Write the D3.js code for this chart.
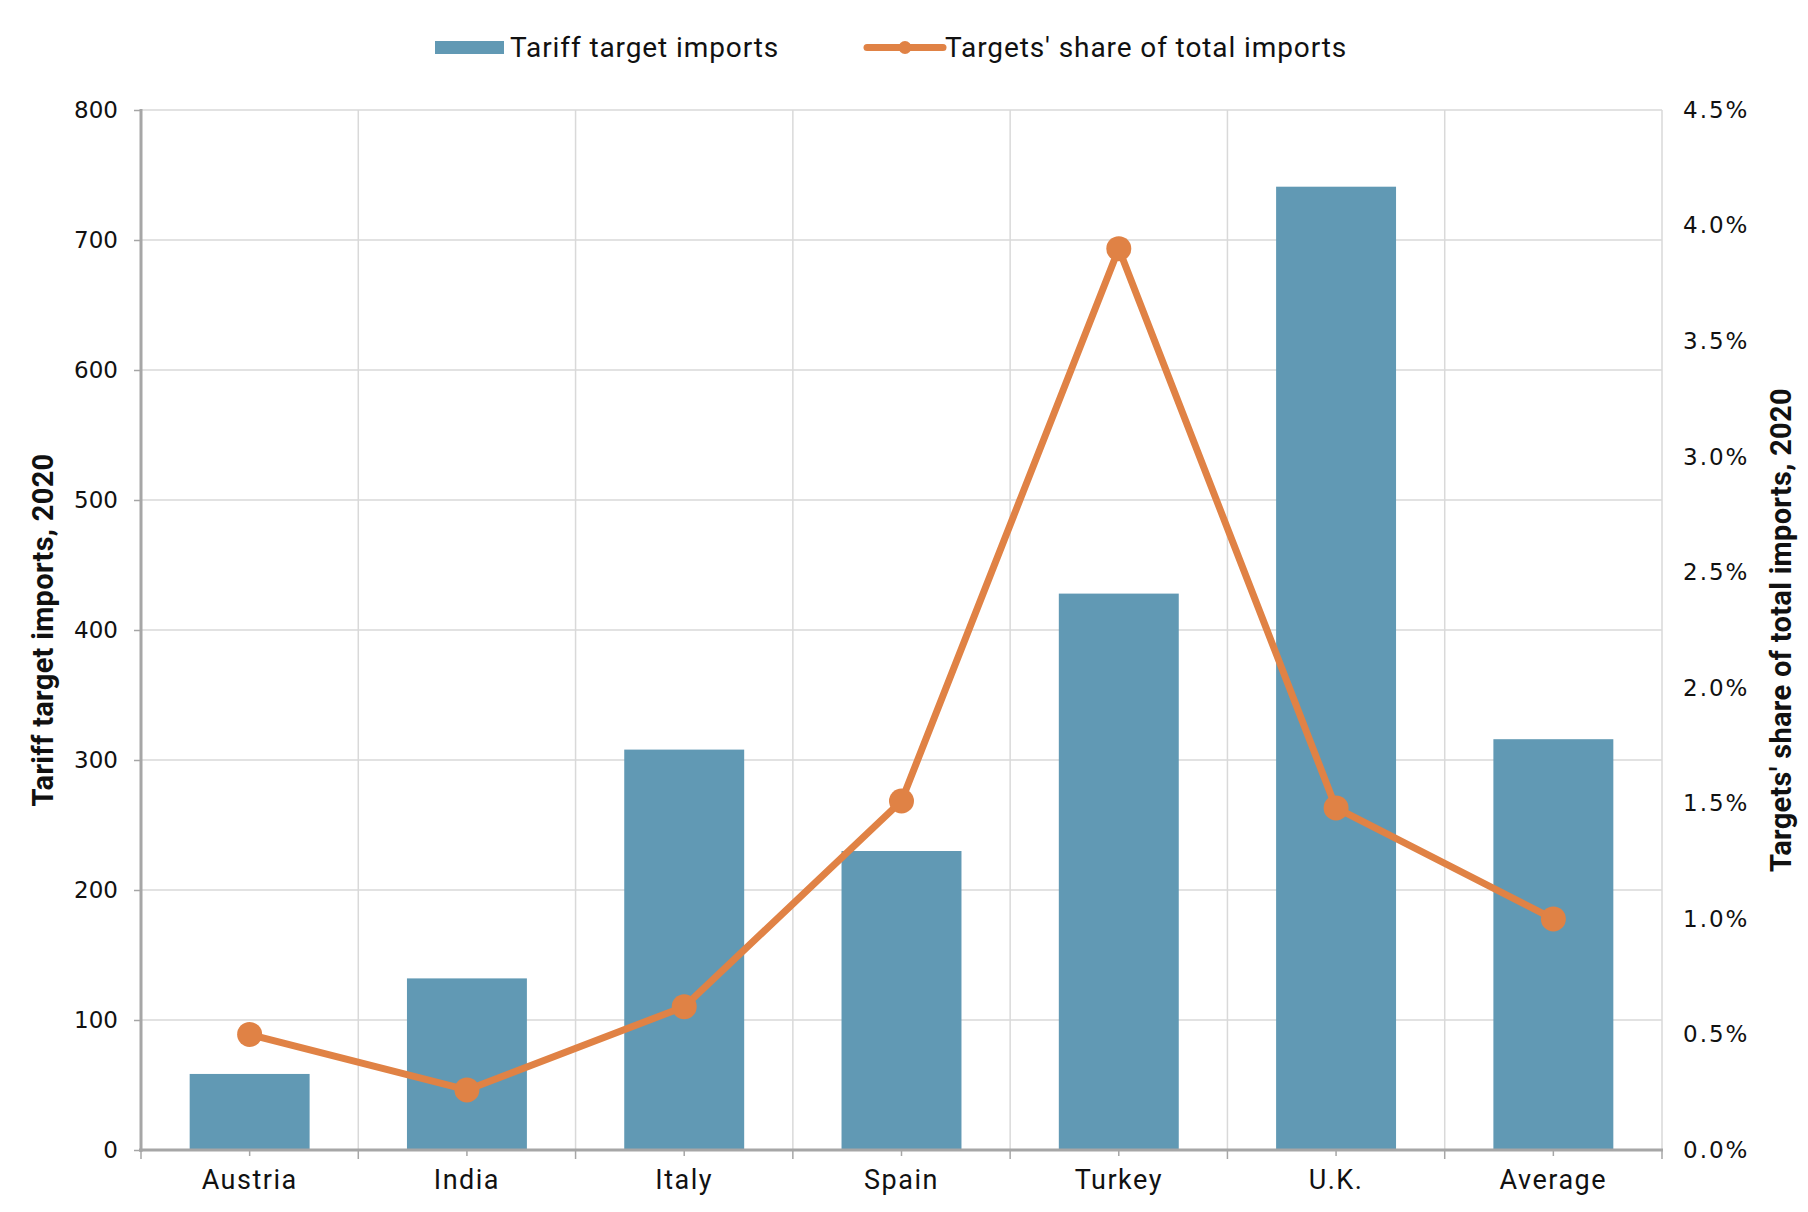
<!DOCTYPE html>
<html>
<head>
<meta charset="utf-8">
<script src="https://cdn.jsdelivr.net/npm/d3@7"></script>
<style>
  body { margin: 0; background: #fff; }
  svg { display: block; }
</style>
</head>
<body>
<script>
var categories = ["Austria", "India", "Italy", "Spain", "Turkey", "U.K.", "Average"];
var imports = [58.5, 132, 308, 230, 428, 741, 316];
var shares = [0.0050, 0.0026, 0.0062, 0.0151, 0.0390, 0.0148, 0.0100];
var leftTicks = [0, 100, 200, 300, 400, 500, 600, 700, 800];
var rightTicks = [0, 0.005, 0.01, 0.015, 0.02, 0.025, 0.03, 0.035, 0.04, 0.045];

var w = 1808;
var h = 1212;
var plotLeft = 141, plotRight = 1662, plotTop = 110, plotBottom = 1150;
var barColor = "#6199b4";
var lineColor = "#e08245";
var gridColor = "#d9d9d9";
var axisColor = "#a6a6a6";

var svg = d3.select("body")
    .append("svg")
    .attr("width", w)
    .attr("height", h);

var x = d3.scaleBand()
    .domain(categories)
    .range([plotLeft, plotRight])
    .paddingInner(0.448)
    .paddingOuter(0.224);

var y = d3.scaleLinear().domain([0, 800]).range([plotBottom, plotTop]);
var y2 = d3.scaleLinear().domain([0, 0.045]).range([plotBottom, plotTop]);

// grid lines
svg.append("g")
    .selectAll("line")
    .data(leftTicks.slice(1))
    .enter()
    .append("line")
    .attr("x1", plotLeft)
    .attr("x2", plotRight)
    .attr("y1", function(d) { return y(d); })
    .attr("y2", function(d) { return y(d); })
    .attr("stroke", gridColor)
    .attr("stroke-width", 1.5);

var step = x.step();
var bounds = d3.range(categories.length + 1).map(function(i) { return plotLeft + i * step; });

svg.append("g")
    .selectAll("line")
    .data(bounds.slice(1))
    .enter()
    .append("line")
    .attr("x1", function(d) { return d; })
    .attr("x2", function(d) { return d; })
    .attr("y1", plotTop)
    .attr("y2", plotBottom)
    .attr("stroke", gridColor)
    .attr("stroke-width", 1.5);

// bars
svg.append("g")
    .selectAll("rect")
    .data(imports)
    .enter()
    .append("rect")
    .attr("x", function(d, i) { return x(categories[i]); })
    .attr("y", function(d) { return y(d); })
    .attr("width", x.bandwidth())
    .attr("height", function(d) { return plotBottom - y(d); })
    .attr("fill", barColor);

// left axis
var gLeft = svg.append("g")
    .attr("transform", "translate(" + plotLeft + ",0)")
    .call(d3.axisLeft(y).tickValues(leftTicks).tickSize(7).tickPadding(16));
gLeft.select(".domain").remove();
gLeft.selectAll("line").attr("stroke", axisColor).attr("stroke-width", 1.5);
gLeft.selectAll("text")
    .attr("font-family", "DejaVu Sans")
    .attr("font-size", 23)
    .attr("fill", "#111");
svg.append("line")
    .attr("x1", plotLeft).attr("x2", plotLeft)
    .attr("y1", plotTop - 1).attr("y2", plotBottom + 2)
    .attr("stroke", axisColor).attr("stroke-width", 3);

// right axis
var gRight = svg.append("g")
    .attr("transform", "translate(" + plotRight + ",0)")
    .call(d3.axisRight(y2).tickValues(rightTicks).tickSize(0).tickPadding(21).tickFormat(d3.format(".1%")));
gRight.select(".domain").remove();
gRight.selectAll("text")
    .attr("font-family", "DejaVu Sans")
    .attr("font-size", 23)
    .attr("letter-spacing", 2)
    .attr("fill", "#111");

// bottom axis
var gBottom = svg.append("g")
    .attr("transform", "translate(0," + plotBottom + ")")
    .call(d3.axisBottom(x).tickSize(6).tickPadding(14));
gBottom.select(".domain").remove();
gBottom.selectAll("line").attr("stroke", axisColor).attr("stroke-width", 1.5);
gBottom.selectAll("text")
    .attr("font-family", "Roboto")
    .attr("font-size", 27)
    .attr("letter-spacing", 1.5)
    .attr("fill", "#111");

svg.append("g")
    .selectAll("line")
    .data(bounds)
    .enter()
    .append("line")
    .attr("x1", function(d) { return d; })
    .attr("x2", function(d) { return d; })
    .attr("y1", plotBottom)
    .attr("y2", plotBottom + 9)
    .attr("stroke", axisColor)
    .attr("stroke-width", 1.5);

svg.append("line")
    .attr("x1", plotLeft - 2).attr("x2", plotRight + 1)
    .attr("y1", plotBottom).attr("y2", plotBottom)
    .attr("stroke", axisColor).attr("stroke-width", 3);

// line series
var line = d3.line()
    .x(function(d, i) { return x(categories[i]) + x.bandwidth() / 2; })
    .y(function(d) { return y2(d); });

svg.append("path")
    .datum(shares)
    .attr("d", line)
    .attr("fill", "none")
    .attr("stroke", lineColor)
    .attr("stroke-width", 7)
    .attr("stroke-linejoin", "round");

svg.append("g")
    .selectAll("circle")
    .data(shares)
    .enter()
    .append("circle")
    .attr("cx", function(d, i) { return x(categories[i]) + x.bandwidth() / 2; })
    .attr("cy", function(d) { return y2(d); })
    .attr("r", 12.5)
    .attr("fill", lineColor);

// axis titles
svg.append("text")
    .attr("transform", "translate(53,630) rotate(-90)")
    .attr("text-anchor", "middle")
    .attr("font-family", "Roboto")
    .attr("font-weight", "bold")
    .attr("font-size", 29)
    .attr("letter-spacing", 0.3)
    .attr("fill", "#111")
    .text("Tariff target imports, 2020");

svg.append("text")
    .attr("transform", "translate(1791,630) rotate(-90)")
    .attr("text-anchor", "middle")
    .attr("font-family", "Roboto")
    .attr("font-weight", "bold")
    .attr("font-size", 29)
    .attr("letter-spacing", 0.3)
    .attr("fill", "#111")
    .text("Targets' share of total imports, 2020");

// legend
var legend = svg.append("g");
legend.append("rect")
    .attr("x", 435).attr("y", 41)
    .attr("width", 69).attr("height", 13)
    .attr("fill", barColor);
legend.append("text")
    .attr("x", 510).attr("y", 57)
    .attr("font-family", "Roboto")
    .attr("font-size", 28)
    .attr("letter-spacing", 0.9)
    .attr("fill", "#111")
    .text("Tariff target imports");
legend.append("line")
    .attr("x1", 867).attr("x2", 943)
    .attr("y1", 47.5).attr("y2", 47.5)
    .attr("stroke", lineColor)
    .attr("stroke-width", 7)
    .attr("stroke-linecap", "round");
legend.append("circle")
    .attr("cx", 905).attr("cy", 47.5).attr("r", 6.5)
    .attr("fill", lineColor);
legend.append("text")
    .attr("x", 945).attr("y", 57)
    .attr("font-family", "Roboto")
    .attr("font-size", 28)
    .attr("letter-spacing", 0.9)
    .attr("fill", "#111")
    .text("Targets' share of total imports");
</script>
</body>
</html>
